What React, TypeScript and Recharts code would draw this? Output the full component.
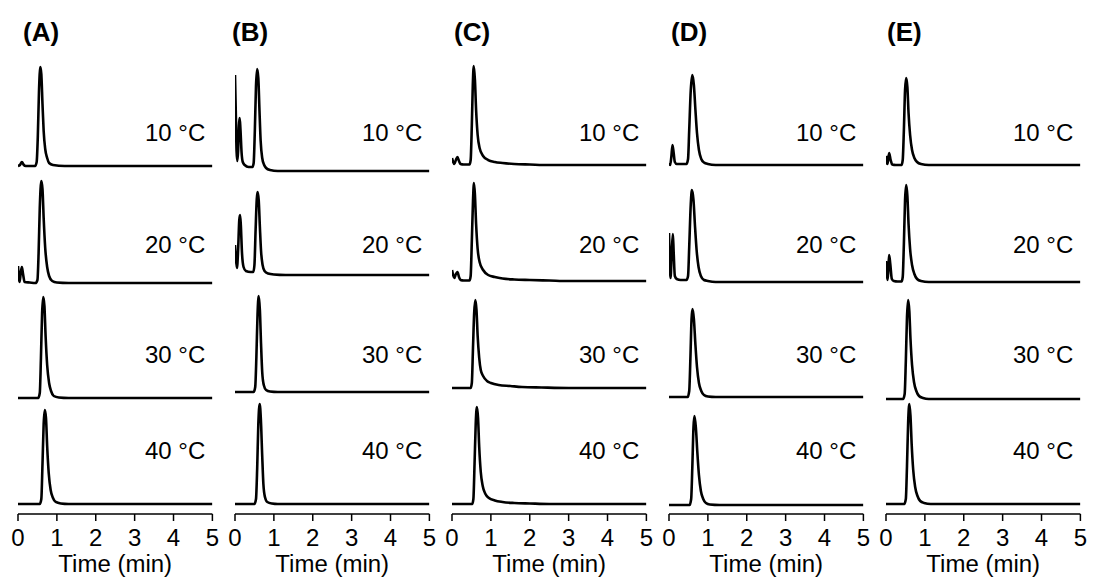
import React from 'react';
import { LineChart, Line, XAxis, YAxis } from 'recharts';

// chromatograms: [time (min), signal]
const A_10: number[][] = [[0,0],[0.05,1],[0.1,4],[0.15,1],[0.2,0],[0.44,0],[0.48,4],[0.51,30],[0.54,75],[0.575,99],[0.6,92],[0.63,62],[0.66,35],[0.7,17],[0.75,8],[0.8,3],[0.9,1],[1.2,0],[5,0]];
const A_20: number[][] = [[0,17],[0.04,1],[0.07,10],[0.1,16],[0.13,9],[0.17,1],[0.3,0.5],[0.45,0],[0.5,3],[0.53,30],[0.56,75],[0.6,102],[0.63,94],[0.66,65],[0.7,35],[0.75,16],[0.8,7],[0.88,2],[1,0.5],[1.3,0],[5,0]];
const A_30: number[][] = [[0,0],[0.52,0],[0.56,5],[0.59,40],[0.62,85],[0.65,101],[0.68,92],[0.71,62],[0.75,33],[0.8,15],[0.85,7],[0.92,2],[1.05,0.5],[1.3,0],[5,0]];
const A_40: number[][] = [[0,0],[0.56,0],[0.6,5],[0.63,40],[0.66,80],[0.69,94],[0.72,86],[0.75,58],[0.79,31],[0.84,14],[0.9,6],[0.97,2],[1.1,0.5],[1.3,0],[5,0]];

const B_10: number[][] = [[0,96],[0.02,60],[0.04,20],[0.06,10],[0.08,20],[0.1,45],[0.12,53],[0.14,42],[0.17,18],[0.2,9],[0.25,6],[0.35,4],[0.45,4],[0.48,8],[0.51,40],[0.54,85],[0.57,102],[0.6,93],[0.63,60],[0.66,30],[0.7,13],[0.75,6],[0.8,3],[0.9,1],[1.1,0],[5,0]];
const B_20: number[][] = [[0,30],[0.02,18],[0.05,7],[0.08,25],[0.11,55],[0.13,60],[0.15,50],[0.18,22],[0.22,8],[0.28,4],[0.4,3],[0.47,3],[0.5,10],[0.53,45],[0.56,76],[0.58,83],[0.61,75],[0.64,48],[0.67,24],[0.71,10],[0.76,4],[0.85,1.5],[1,0.5],[1.3,0],[5,0]];
const B_30: number[][] = [[0,0],[0.48,0],[0.52,5],[0.55,35],[0.58,78],[0.61,96],[0.64,82],[0.67,48],[0.7,20],[0.74,7],[0.8,2],[0.9,0.5],[1.1,0],[5,0]];
const B_40: number[][] = [[0,0],[0.5,0],[0.54,5],[0.57,35],[0.6,80],[0.635,100],[0.665,85],[0.7,48],[0.73,20],[0.77,7],[0.83,2],[0.95,0.5],[1.1,0],[5,0]];

const C_10: number[][] = [[0,7],[0.03,3],[0.06,1],[0.1,5],[0.14,8],[0.18,4],[0.22,1],[0.3,0.5],[0.45,0.5],[0.48,5],[0.51,40],[0.535,80],[0.56,99],[0.59,85],[0.62,55],[0.66,30],[0.71,17],[0.8,9],[0.93,5],[1.1,3],[1.3,2],[1.6,1],[2,0.5],[2.5,0],[5,0]];
const C_20: number[][] = [[0,11],[0.03,6],[0.06,3],[0.1,7],[0.14,9],[0.18,4],[0.22,1],[0.3,0.5],[0.45,0.5],[0.48,5],[0.51,40],[0.54,80],[0.565,98],[0.59,86],[0.62,57],[0.66,32],[0.71,19],[0.8,11],[0.93,6],[1.1,4],[1.3,2.5],[1.6,1.5],[2,1],[2.5,0.5],[3,0],[5,0]];
const C_30: number[][] = [[0,0],[0.48,0],[0.51,5],[0.54,40],[0.57,75],[0.6,88],[0.63,78],[0.66,52],[0.7,30],[0.74,18],[0.8,12],[0.9,7],[1,5],[1.2,3],[1.5,2],[1.8,1],[2.3,0.5],[3,0],[5,0]];
const C_40: number[][] = [[0,0],[0.52,0],[0.55,5],[0.58,40],[0.61,80],[0.64,97],[0.67,86],[0.7,57],[0.74,32],[0.79,18],[0.86,10],[0.95,6],[1.1,3.5],[1.3,2],[1.6,1],[2,0.5],[2.5,0],[5,0]];

const D_10: number[][] = [[0,2],[0.03,0],[0.06,8],[0.09,20],[0.12,12],[0.15,3],[0.2,1],[0.3,1],[0.45,1],[0.49,6],[0.52,35],[0.56,75],[0.6,90],[0.64,80],[0.68,55],[0.72,32],[0.77,15],[0.83,6],[0.9,2.5],[1,1],[1.2,0],[5,0]];
const D_20: number[][] = [[0,49],[0.02,20],[0.04,4],[0.07,30],[0.1,48],[0.12,30],[0.15,6],[0.2,3],[0.3,2],[0.45,2],[0.49,6],[0.52,35],[0.56,78],[0.59,92],[0.63,82],[0.67,55],[0.71,32],[0.76,15],[0.82,6],[0.9,2],[1,1],[1.2,0],[5,0]];
const D_30: number[][] = [[0,0],[0.48,0],[0.52,6],[0.55,38],[0.58,78],[0.605,88],[0.64,78],[0.68,52],[0.72,30],[0.77,14],[0.83,6],[0.9,2],[1,0.5],[1.2,0],[5,0]];
const D_40: number[][] = [[0,0],[0.53,0],[0.57,6],[0.6,38],[0.63,78],[0.655,89],[0.69,78],[0.73,52],[0.77,30],[0.82,14],[0.88,6],[0.95,2],[1.05,0.5],[1.3,0],[5,0]];

const E_10: number[][] = [[0,9],[0.02,3],[0.04,1],[0.08,12],[0.12,5],[0.16,0.5],[0.25,0],[0.4,0],[0.43,5],[0.46,35],[0.49,75],[0.52,87],[0.55,78],[0.58,52],[0.62,30],[0.67,15],[0.73,7],[0.8,3],[0.9,1],[1.1,0],[5,0]];
const E_20: number[][] = [[0,21],[0.02,8],[0.04,2],[0.06,12],[0.08,27],[0.11,18],[0.15,3],[0.2,1],[0.3,0.5],[0.4,0.5],[0.43,5],[0.46,38],[0.49,82],[0.52,97],[0.55,86],[0.58,58],[0.62,33],[0.67,17],[0.73,8],[0.8,3],[0.9,1],[1.1,0],[5,0]];
const E_30: number[][] = [[0,0],[0.44,0],[0.48,5],[0.51,38],[0.54,82],[0.57,99],[0.6,88],[0.63,60],[0.67,34],[0.72,17],[0.78,8],[0.85,3],[0.95,1],[1.1,0],[5,0]];
const E_40: number[][] = [[0,0],[0.47,0],[0.51,5],[0.54,38],[0.57,82],[0.6,100],[0.63,88],[0.66,60],[0.7,34],[0.75,17],[0.81,8],[0.88,3],[0.98,1],[1.15,0],[5,0]];

const PANELS = ['(A)', '(B)', '(C)', '(D)', '(E)'];
const TEMPS = ['10 °C', '20 °C', '30 °C', '40 °C'];
const TICKS = [0, 1, 2, 3, 4, 5];
const TRACES = [
  [A_10, A_20, A_30, A_40],
  [B_10, B_20, B_30, B_40],
  [C_10, C_20, C_30, C_40],
  [D_10, D_20, D_30, D_40],
  [E_10, E_20, E_30, E_40],
];

// layout (page px)
const X0 = [18.3, 235.3, 452.3, 669.3, 886.3];
const PW = 194.4;
const TOP = 50;
const AXIS_Y = 514;
const BASELINES = [
  [166, 283, 398, 504],
  [171, 275, 392, 504],
  [165, 281, 388, 504],
  [165, 282, 397, 505],
  [165, 282, 399, 504],
];
const LABEL_PANEL_X = [23, 232, 454, 671, 887];
const TEMP_Y = [142, 254, 364, 460];
const FONT = "'Liberation Sans', Arial, sans-serif";

export default function App() {
  const plotH = AXIS_Y - TOP;
  return (
    <div style={{ position: 'absolute', left: 0, top: 0, width: 1093, height: 581, background: '#fff', fontFamily: FONT, overflow: 'hidden' }}>
      {TRACES.map((col, ci) => (
        <div key={ci}>
          <div style={{ position: 'absolute', left: LABEL_PANEL_X[ci], top: 17, fontSize: 26, fontWeight: 'bold', lineHeight: '30px' }}>
            {PANELS[ci]}
          </div>
          {TEMPS.map((tl, ri) => (
            <div key={tl} style={{ position: 'absolute', left: X0[ci] + 87 - 100, width: 200, top: TEMP_Y[ri] - 22, fontSize: 24, lineHeight: '26px', textAlign: 'right', whiteSpace: 'nowrap' }}>
              {tl}
            </div>
          ))}
          <div style={{ position: 'absolute', left: X0[ci] - 10, top: TOP }}>
            <LineChart width={PW + 20} height={581 - TOP} margin={{ top: 0, right: 10, bottom: 0, left: 10 }}>
              <XAxis
                type="number"
                dataKey="t"
                domain={[0, 5]}
                ticks={TICKS}
                allowDataOverflow
                height={581 - TOP - plotH}
                tickSize={7}
                tickMargin={8}
                axisLine={{ stroke: '#000', strokeWidth: 1.5 }}
                tickLine={{ stroke: '#000', strokeWidth: 1.5 }}
                tick={{ fill: '#000', fontSize: 24, fontFamily: FONT }}
                label={{ value: 'Time (min)', position: 'insideBottom', offset: 9, fill: '#000', fontSize: 24, fontFamily: FONT }}
              />
              <YAxis hide type="number" domain={[0, plotH]} allowDataOverflow />
              {col.map((trace, ri) => {
                const off = AXIS_Y - BASELINES[ci][ri];
                const data = trace.map(([t, s]) => ({ t, v: s + off }));
                return (
                  <Line
                    key={ri}
                    data={data}
                    dataKey="v"
                    type="monotone"
                    stroke="#000"
                    strokeWidth={2.6}
                    dot={false}
                    isAnimationActive={false}
                  />
                );
              })}
            </LineChart>
          </div>
        </div>
      ))}
    </div>
  );
}
